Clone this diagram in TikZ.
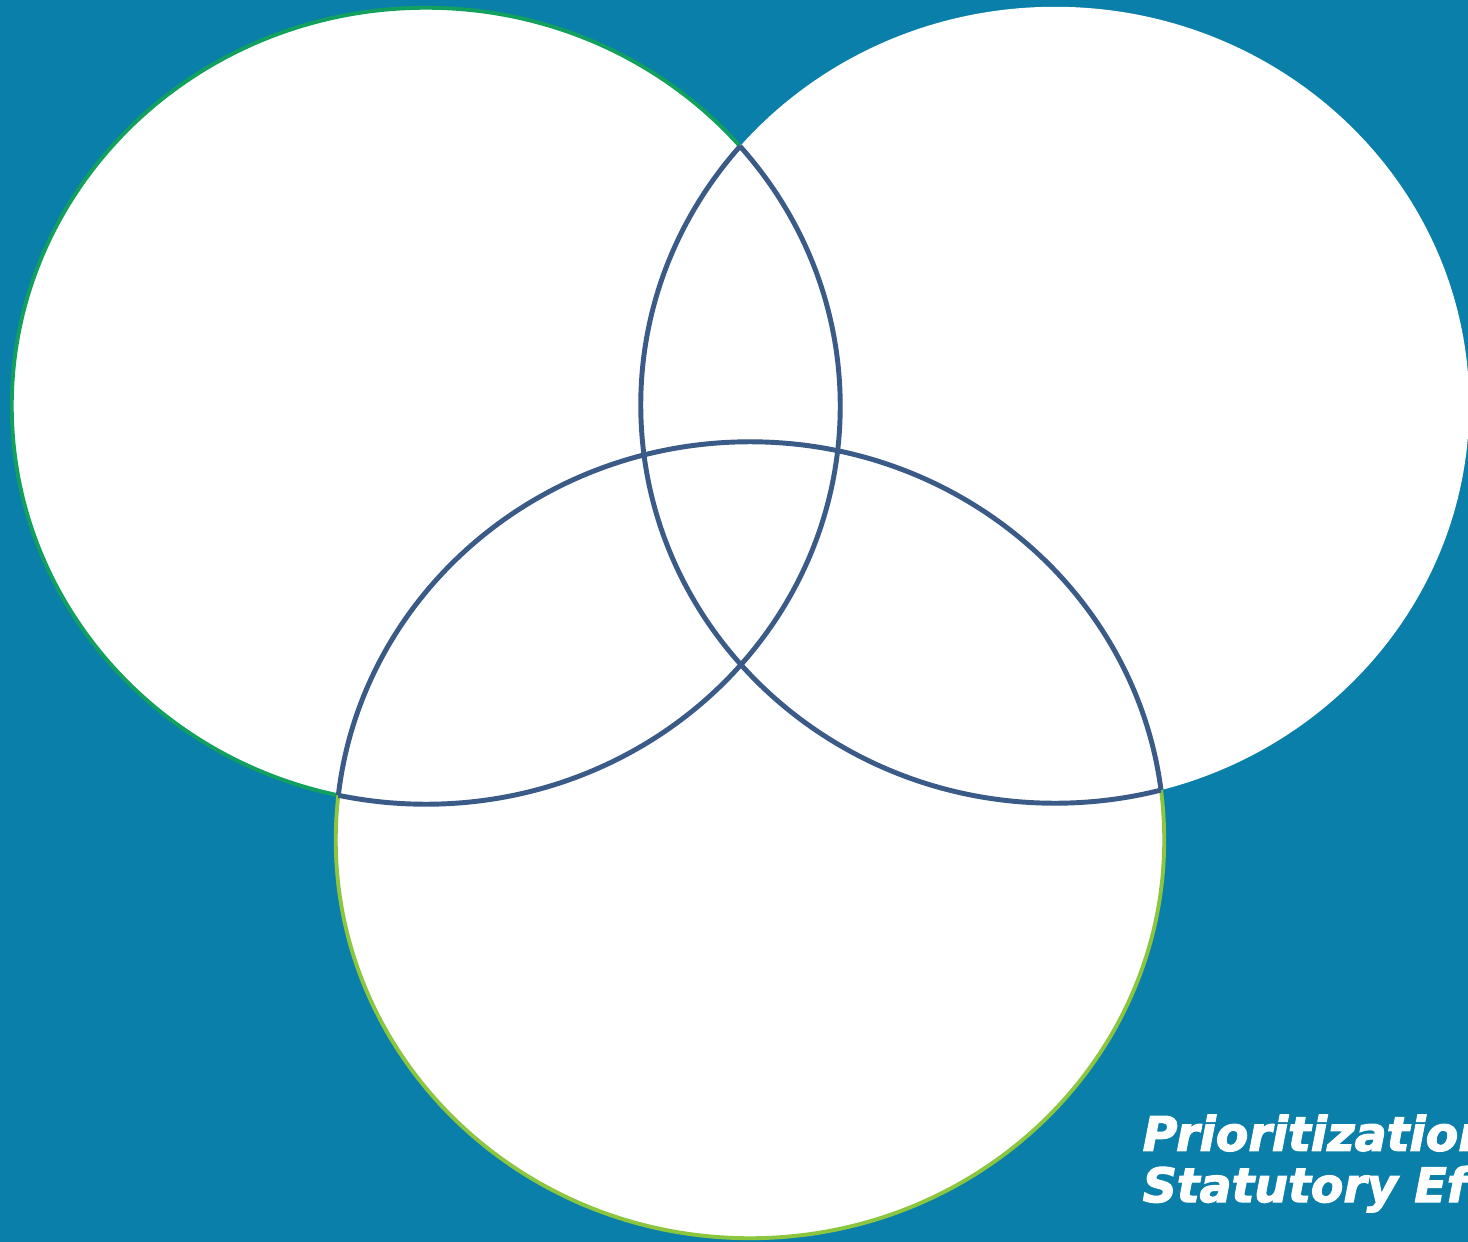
\documentclass[tikz,border=0pt]{standalone}
\usepackage{fontspec}
\newfontfamily\captionfont[BoldItalicFeatures={FakeBold=2.5}]{DejaVu Sans}
\definecolor{bgteal}{HTML}{0A7FAA}
\definecolor{lensline}{HTML}{3A5A88}
\definecolor{leftgreen}{HTML}{12A05E}
\definecolor{lightgreen}{HTML}{8CC63F}

\begin{document}
\begin{tikzpicture}[
  x=0.01cm, y=-0.01cm,
  set/.style    ={fill=white, line width=1.1pt},
  lens/.style   ={draw=lensline, line width=1.4pt, line join=round},
  caption/.style={font=\captionfont\bfseries\itshape\fontsize{13.5}{14.6}\selectfont,
                  text=white, align=left, anchor=north west, inner sep=0pt},
  oval/.style   ={x radius=4.14cm, y radius=3.98cm},
]
  \useasboundingbox (0,0) rectangle (1468,1242);
  \clip (0,0) rectangle (1468,1242);
  \fill[bgteal] (0,0) rectangle (1468,1242);

  \coordinate (lc) at (426,406);
  \coordinate (rc) at (1055,405);
  \coordinate (bc) at (750,840);

  % the three sets
  \path[set, draw=leftgreen]  (lc) ellipse [oval];
  \path[set]                  (rc) ellipse [oval];
  \path[set, draw=lightgreen] (bc) ellipse [oval];

  % outlines of the overlaps
  \begin{scope}
    \clip (rc) ellipse [oval] (bc) ellipse [oval];
    \draw[lens] (lc) ellipse [oval];
  \end{scope}
  \begin{scope}
    \clip (lc) ellipse [oval] (bc) ellipse [oval];
    \draw[lens] (rc) ellipse [oval];
  \end{scope}
  \begin{scope}
    \clip (lc) ellipse [oval] (rc) ellipse [oval];
    \draw[lens] (bc) ellipse [oval];
  \end{scope}

  \node[caption] (prio) at (1142,1114) {Prioritization\\Statutory Ef};
\end{tikzpicture}
\end{document}
